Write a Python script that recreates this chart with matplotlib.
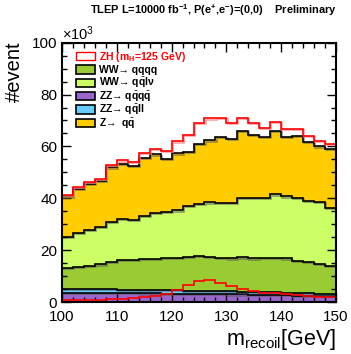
import numpy as np
import matplotlib
matplotlib.use('Agg')
import matplotlib.pyplot as plt
from matplotlib.patches import Rectangle
from matplotlib.ticker import MultipleLocator
import matplotlib.patheffects as pe

plt.rcParams['font.family'] = ['Liberation Sans', 'DejaVu Sans']
plt.rcParams['mathtext.fontset'] = 'custom'
plt.rcParams['mathtext.rm'] = 'Liberation Sans'
plt.rcParams['mathtext.it'] = 'Liberation Sans:italic'
plt.rcParams['mathtext.bf'] = 'Liberation Sans:bold'

# ---- data (events, units of 10^3), 2 GeV bins from 100 to 150 GeV ----
bin_edges = np.arange(100, 152, 2)
zz_qqqq = [3.6, 3.6, 3.5, 3.5, 3.5, 3.4, 3.4, 3.3, 3.3, 3.2, 3.2, 3.1, 3.1,
           3.0, 3.0, 2.9, 2.9, 2.8, 2.7, 2.7, 2.6, 2.5, 2.4, 2.3, 2.2]
zz_qqll = [1.5, 1.5, 1.5, 1.4, 1.4, 1.4, 1.4, 1.3, 1.3, 1.3, 1.3, 1.3, 1.2,
           1.2, 1.2, 1.2, 1.1, 1.1, 1.1, 1.1, 1.0, 1.0, 1.0, 0.9, 0.9]
ww_qqqq = [7.9, 8.5, 9.0, 9.6, 10.7, 11.5, 11.3, 11.9, 12.1, 12.4, 12.4, 12.9, 13.3,
           13.1, 12.8, 12.7, 13.2, 12.9, 13.1, 13.3, 13.2, 12.5, 12.1, 11.6, 10.7]
ww_qqlv = [12.0, 12.9, 13.8, 14.3, 15.3, 15.6, 15.4, 16.7, 17.5, 17.8, 18.4, 19.8, 20.2,
           21.1, 21.3, 21.5, 23.1, 23.2, 23.4, 24.4, 23.9, 24.2, 23.6, 23.8, 22.4]
z_qq = [15.7, 17.1, 17.6, 17.9, 21.0, 21.4, 21.1, 22.4, 22.7, 20.4, 22.0, 20.8, 23.2,
        23.9, 25.3, 24.6, 25.6, 24.5, 23.3, 24.6, 22.9, 23.9, 22.7, 21.4, 22.9]
zh = [0.6, 0.7, 0.8, 0.9, 1.1, 1.3, 1.5, 1.8, 2.2, 3.2, 4.6, 6.4, 8.0,
      8.5, 7.5, 6.3, 5.1, 4.4, 3.6, 3.4, 3.1, 2.8, 2.4, 2.1, 2.0]

stack_series = [zz_qqqq, zz_qqll, ww_qqqq, ww_qqlv, z_qq]
stack_colors = ['#9966cc', '#66ccff', '#99cc33', '#ccff66', '#ffcc00']

QB = '\\bar{\\mathbf{q}}'
legend_labels = ['ZH (m$_{\\mathbf{H}}$=125 GeV)',
                 'WW\u2192 qqqq',
                 'WW\u2192 q$' + QB + '$l\u03bd',
                 'ZZ\u2192 q$' + QB + '$q$' + QB + '$',
                 'ZZ\u2192 q$' + QB + '$ll',
                 'Z\u2192  q$' + QB + '$']
legend_faces = ['white', stack_colors[2], stack_colors[3], stack_colors[0],
                stack_colors[1], stack_colors[4]]
legend_edges = ['red', 'black', 'black', 'black', 'black', 'black']
legend_textcolors = ['red', 'black', 'black', 'black', 'black', 'black']

W, H = 351, 354
fig = plt.figure(figsize=(W / 100, H / 100), dpi=100)
ax = fig.add_axes([62 / W, 1 - 302 / H, (336 - 62) / W, (302 - 42.7) / H])

shadow = [pe.SimpleLineShadow(offset=(0.8, -0.8), shadow_color='0.35', alpha=0.6), pe.Normal()]
shadow_red = [pe.SimpleLineShadow(offset=(0.8, -0.8), shadow_color='#ff8888', alpha=0.8), pe.Normal()]

base = np.zeros(len(bin_edges) - 1)
tops = []
for vals, col in zip(stack_series, stack_colors):
    top = base + np.asarray(vals)
    ax.stairs(top, bin_edges, baseline=base, fill=True, facecolor=col,
              edgecolor='none', lw=0, zorder=1)
    tops.append(top)
    base = top

for top in tops:
    ax.stairs(top, bin_edges, baseline=None, color='black', lw=1.2, zorder=3,
              path_effects=shadow)

ax.stairs(base + np.asarray(zh), bin_edges, baseline=None, color='red', lw=1.2,
          zorder=3, path_effects=shadow_red)
ax.stairs(zh, bin_edges, baseline=None, color='red', lw=1.2, zorder=4)

ax.set_xlim(100, 150)
ax.set_ylim(0, 100)
ax.set_xticks(np.arange(100, 151, 10))
ax.set_yticks(np.arange(0, 101, 20))
ax.xaxis.set_minor_locator(MultipleLocator(2))
ax.yaxis.set_minor_locator(MultipleLocator(5))
ax.tick_params(which='both', direction='in', top=True, right=True, width=1,
               labelsize=11, zorder=5)
ax.tick_params(which='major', length=6.5)
ax.tick_params(which='minor', length=3.6)
ax.tick_params(axis='x', pad=5.5)
ax.tick_params(axis='y', pad=3.5)
for s in ax.spines.values():
    s.set_linewidth(1.5)
    s.set_zorder(6)

# legend (drawn as boxes + texts, ROOT style)
row0, drow = 56.0, 13.4
for i, (lab, fc, ec, tc) in enumerate(zip(legend_labels, legend_faces,
                                          legend_edges, legend_textcolors)):
    yc = row0 + drow * i
    fig.add_artist(Rectangle((76 / W, 1 - (yc + 4.2) / H), 19 / W, 8.4 / H,
                             transform=fig.transFigure, facecolor=fc,
                             edgecolor=ec, lw=1.2 if ec == 'black' else 1.0))
    fig.text(99 / W, 1 - (yc + 3.6) / H, lab, ha='left', va='baseline',
             fontsize=7.5, fontweight='bold', color=tc)

fig.text(337 / W, 1 - 14 / H,
         'TLEP L=10000 fb$^{\\mathbf{-1}}$, P(e$^{\\mathbf{+}}$,e$^{\\mathbf{-}}$)=(0,0)    Preliminary',
         ha='right', va='baseline', fontsize=7.9, fontweight='bold')
fig.text(62 / W, 1 - 43 / H, '$\\times$10$^{3}$', ha='left', va='bottom', fontsize=10.5)
fig.text(14 / W, 1 - 41 / H, '#event', rotation=90, ha='center', va='top', fontsize=14.5)
fig.text(336 / W, 1 - 345 / H, 'm$_{\\mathrm{recoil}}$[GeV]', ha='right',
         va='baseline', fontsize=15.5)

fig.savefig('out.png', dpi=100)
